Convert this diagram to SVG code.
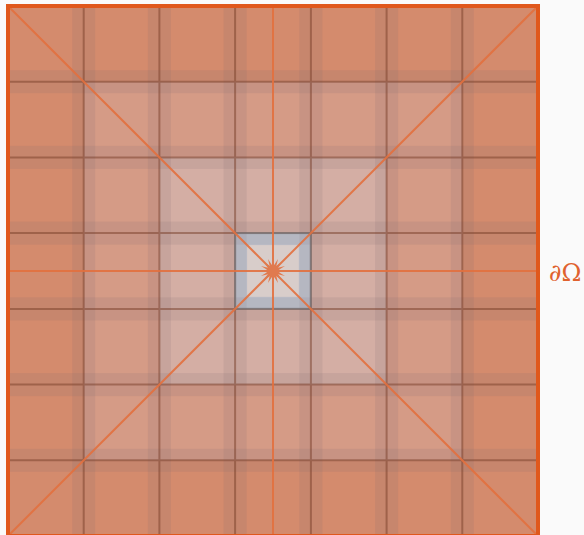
<svg xmlns="http://www.w3.org/2000/svg" width="584" height="535" viewBox="0 0 584 535">
<style>
.band{fill:rgb(125,105,115);fill-opacity:0.15}
.grid{stroke:rgb(120,62,40);stroke-opacity:0.5;stroke-width:2;fill:none}
.ol{stroke:#e2703e;stroke-width:2;stroke-opacity:0.9;fill:none}
</style>
<rect x="0" y="0" width="584" height="535" fill="#fafafa"/>
<g id="rings">
<rect id="ring-outer" x="8" y="6" width="530" height="530" fill="#d48b6d"/>
<rect id="ring-2" x="83.7" y="81.7" width="378.6" height="378.6" fill="#d59b86"/>
<rect id="ring-3" x="159.4" y="157.4" width="227.1" height="227.1" fill="#d4aea4"/>
<rect id="center-cell" x="235.1" y="233.1" width="75.7" height="75.7" fill="#d8cdca"/>
</g>
<g id="bands">
<rect class="band" x="72.2" y="8" width="23" height="526"/>
<rect class="band" x="147.9" y="8" width="23" height="526"/>
<rect class="band" x="223.6" y="8" width="23" height="526"/>
<rect class="band" x="299.4" y="8" width="23" height="526"/>
<rect class="band" x="375.1" y="8" width="23" height="526"/>
<rect class="band" x="450.8" y="8" width="23" height="526"/>
<rect class="band" x="10" y="70.2" width="526" height="23"/>
<rect class="band" x="10" y="145.9" width="526" height="23"/>
<rect class="band" x="10" y="221.6" width="526" height="23"/>
<rect class="band" x="10" y="297.4" width="526" height="23"/>
<rect class="band" x="10" y="373.1" width="526" height="23"/>
<rect class="band" x="10" y="448.8" width="526" height="23"/>
<rect x="241.1" y="239.1" width="63.7" height="63.7" fill="none" stroke="rgb(130,165,205)" stroke-opacity="0.28" stroke-width="12"/>
</g>
<g id="grid">
<path class="grid" d="M83.7 8V534M159.4 8V534M235.1 8V534M310.9 8V534M386.6 8V534M462.3 8V534M10 81.7H536M10 157.4H536M10 233.1H536M10 308.9H536M10 384.6H536M10 460.3H536"/>
<rect x="235.1" y="233.1" width="75.7" height="75.7" fill="none" stroke="#707880" stroke-opacity="0.6" stroke-width="2"/>
</g>
<g id="connectors">
<path class="ol" d="M8 6L538 536M538 6L8 536M273 6V536M8 271H538"/>
</g>
<g id="source">
<polygon fill="#e07a4e" points="286,271 278.88,272.17 285.01,275.98 277.99,274.33 282.19,280.19 276.33,275.99 277.98,283.01 274.17,276.88 273,284 271.83,276.88 268.02,283.01 269.67,275.99 263.81,280.19 268.01,274.33 260.99,275.98 267.12,272.17 260,271 267.12,269.83 260.99,266.02 268.01,267.67 263.81,261.81 269.67,266.01 268.02,258.99 271.83,265.12 273,258 274.17,265.12 277.98,258.99 276.33,266.01 282.19,261.81 277.99,267.67 285.01,266.02 278.88,269.83"/>
</g>
<g id="boundary">
<rect x="8" y="6" width="530" height="530" fill="none" stroke="#e0581c" stroke-width="4"/>
<text x="549" y="281" font-family="DejaVu Serif, serif" font-size="24" fill="#e0622e">∂Ω</text>
</g>
</svg>
